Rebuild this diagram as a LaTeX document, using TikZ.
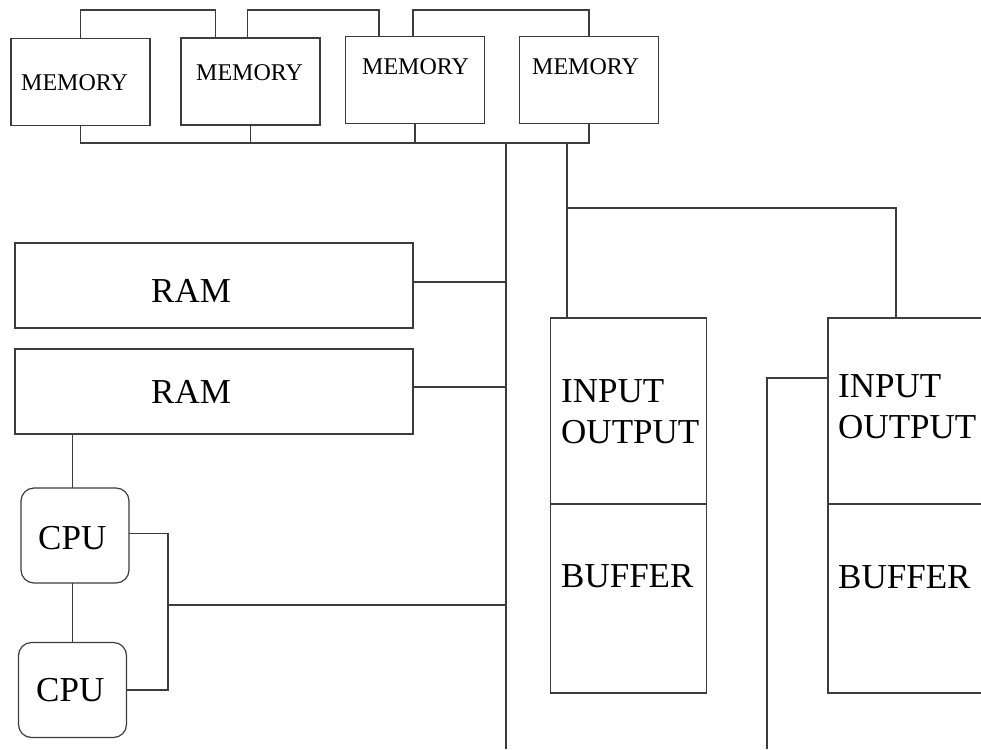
\documentclass[tikz,border=0pt]{standalone}
\usepackage{fontspec}
\setmainfont{Liberation Serif}
\usepackage{tikz}
\usetikzlibrary{calc}
\definecolor{linegray}{HTML}{3C3C3C}
\tikzset{
  wire/.style={draw=linegray,line width=1.2pt},
  blockbase/.style={wire,inner sep=0pt,outer sep=0pt},
  membox/.style={blockbase,minimum width=139pt,minimum height=87pt},
  rambox/.style={blockbase,minimum width=398pt,minimum height=85pt},
  cpubox/.style={blockbase,rounded corners=13pt,minimum width=108pt,minimum height=95pt},
  iobox/.style={blockbase,minimum width=156pt,minimum height=186pt},
  bufbox/.style={blockbase,minimum width=156pt,minimum height=189pt},
  memlabel/.style={font=\fontsize{24}{28}\selectfont,inner sep=0pt,anchor=base west},
  biglabel/.style={font=\fontsize{35}{41}\selectfont,inner sep=0pt,anchor=base west,align=left},
}

\begin{document}
\begin{tikzpicture}[x=1pt,y=-1pt]
  \useasboundingbox (0,0) rectangle (981,749);
  \clip (0,0) rectangle (981,749);
  % memory row
  \node[membox] (mem1) at (80.5,82) {};
  \node[membox] (mem2) at (250.5,81.5) {};
  \node[membox] (mem3) at (415,80) {};
  \node[membox] (mem4) at (589,80) {};
  \node[memlabel] at (21,91) {MEMORY};
  \node[memlabel] at (196,81) {MEMORY};
  \node[memlabel] at (362,75) {MEMORY};
  \node[memlabel] at (532,75) {MEMORY};
  \coordinate (top) at (0,10);
  \coordinate (bus) at (0,143);
  \draw[wire] (mem1.north) -- (mem1.north |- top) -| ([xshift=-35pt]mem2.north);
  \draw[wire] ([xshift=-3pt]mem2.north) -- ([xshift=-3pt]mem2.north |- top) -| ([xshift=-36pt]mem3.north);
  \draw[wire] ([xshift=-2pt]mem3.north) -- ([xshift=-2pt]mem3.north |- top) -| (mem4.north);
  \draw[wire] (mem1.south) -- (mem1.south |- bus) -- (mem4.south |- bus) -- (mem4.south);
  \draw[wire] (mem2.south) -- (mem2.south |- bus);
  \draw[wire] (mem3.south) -- (mem3.south |- bus);
  % main bus
  \coordinate (trunk) at (506,143);
  \coordinate (trunkend) at (506,749);
  \draw[wire] (trunk) -- (trunkend);
  % ram
  \node[rambox] (ram1) at (214,285.5) {};
  \node[rambox] (ram2) at (214,391.5) {};
  \node[biglabel] at (151,302) {RAM};
  \node[biglabel] at (151,403) {RAM};
  \draw[wire] ([yshift=3.5pt]ram1.east) -- ([yshift=3.5pt]ram1.east -| trunk);
  \draw[wire] ([yshift=4.5pt]ram2.east) -- ([yshift=4.5pt]ram2.east -| trunk);
  % cpus
  \node[cpubox] (cpu1) at (75,535.5) {};
  \node[cpubox] (cpu2) at (72.5,690) {};
  \node[biglabel] at (38,549) {CPU};
  \node[biglabel] at (36,701) {CPU};
  \draw[wire] (ram2.south -| cpu2.north) -- (cpu1.north -| cpu2.north);
  \draw[wire] (cpu1.south -| cpu2.north) -- (cpu2.north);
  \coordinate (cpujoin) at (168,605);
  \draw[wire] ([yshift=2pt]cpu1.east) -| (cpujoin) |- (cpu2.east);
  \draw[wire] (cpujoin) -- (cpujoin -| trunk);
  % input/output units
  \node[bufbox] (buf1) at (628.5,598.5) {};
  \node[iobox] (io1) at (628.5,411) {};
  \node[bufbox] (buf2) at (906,598.5) {};
  \node[iobox] (io2) at (906,411) {};
  \node[biglabel] at (561,443) {INPUT\\OUTPUT};
  \node[biglabel] at (561,587) {BUFFER};
  \node[biglabel] at (838,438) {INPUT\\OUTPUT};
  \node[biglabel] at (838,588) {BUFFER};
  \coordinate (iotap) at (567,143);
  \coordinate (iobranch) at (567,208);
  \draw[wire] (iotap) -- (iotap |- io1.north);
  \draw[wire] (iobranch) -| ([xshift=-10pt]io2.north);
  \coordinate (sidein) at (828,378);
  \coordinate (sideend) at (767,749);
  \draw[wire] (sidein) -| (sideend);
\end{tikzpicture}
\end{document}
